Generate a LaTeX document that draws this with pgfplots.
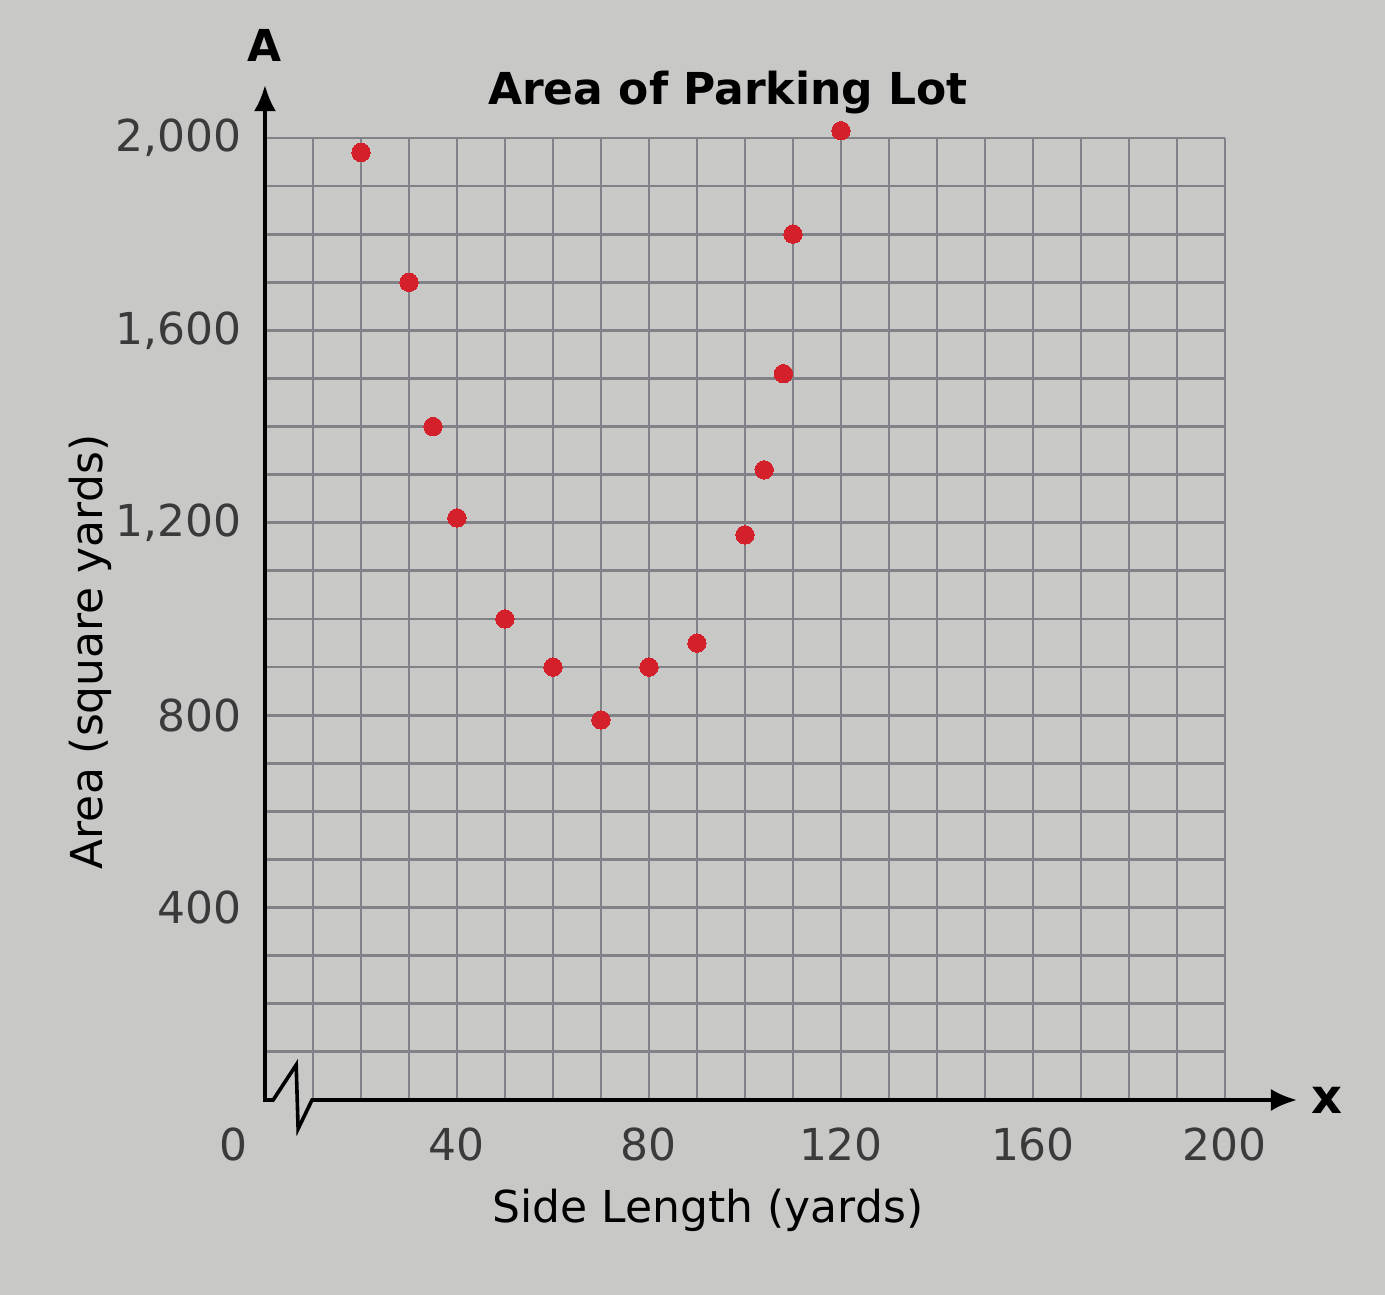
\documentclass[border=0pt]{standalone}
\usepackage{fontspec}
\setmainfont{DejaVu Sans}
\usepackage{pgfplots}
\pgfplotsset{compat=1.18}
\usetikzlibrary{arrows.meta}
\definecolor{bgcol}{RGB}{200,200,198}
\definecolor{gridcol}{RGB}{128,130,135}
\definecolor{dotred}{RGB}{212,32,42}
\definecolor{tickcol}{RGB}{58,58,58}
\begin{document}
\fontsize{11}{13}\selectfont
\begin{tikzpicture}
\fill[bgcol] (-66.25pt,-48.75pt) rectangle (280pt,275pt);
\begin{axis}[
  at={(0pt,0pt)}, anchor=south west,
  scale only axis, width=240pt, height=240.5pt,
  xmin=0, xmax=200, ymin=0, ymax=2000,
  clip=false,
  separate axis lines,
  axis line style={draw=none},
  xtick={40,80,120,160,200},
  ytick={400,800,1200,1600,2000},
  minor xtick={10,20,...,200},
  minor ytick={100,200,...,2000},
  grid=both,
  major grid style={gridcol, line width=0.7pt},
  minor grid style={gridcol, line width=0.7pt},
  major tick length=0pt, minor tick length=0pt,
  /pgf/number format/assume math mode=true,
  /pgf/number format/1000 sep={,},
  ticklabel style={font=\fontsize{11}{13}\selectfont, text=tickcol},
  xticklabel style={yshift=-3pt},
  yticklabel style={xshift=-2pt},
]
\addplot[only marks, color=dotred, mark=*, mark size=2.3pt, mark options={draw=dotred, fill=dotred, line width=0pt}]
  coordinates {
  (20,1970) (30,1700) (35,1400) (40,1210) (50,1000) (60,900) (70,790)
  (80,900) (90,950) (100,1175) (104,1310) (108,1510) (110,1800) (120,2015)
  };
\draw[black, line width=0.9pt, {Latex[length=6.5pt,width=5.5pt]}-{Latex[length=6.5pt,width=5.5pt]}]
  (axis cs:0,2110) -- (axis cs:0,0) -- (axis cs:1.7,0) -- (axis cs:6.5,73)
  -- (axis cs:6.9,-60) -- (axis cs:9.8,0) -- (axis cs:215,0);
\node[anchor=south, font=\bfseries\fontsize{11}{13}\selectfont, inner sep=1pt] at (axis cs:0,2150) {A};
\node[anchor=west, font=\bfseries\fontsize{12}{13}\selectfont, inner sep=1pt] at (axis cs:217,0) {x};
\node[anchor=north, yshift=-3pt, inner sep=0.3333em, text=tickcol] at (axis cs:-6.5,0) {0};
\end{axis}
\node[font=\bfseries\fontsize{11}{13}\selectfont] at (115.75pt,251.75pt) {Area of Parking Lot};
\node at (110.75pt,-27.5pt) {Side Length (yards)};
\node[rotate=90] at (-43.75pt,112pt) {Area (square yards)};
\end{tikzpicture}
\end{document}
